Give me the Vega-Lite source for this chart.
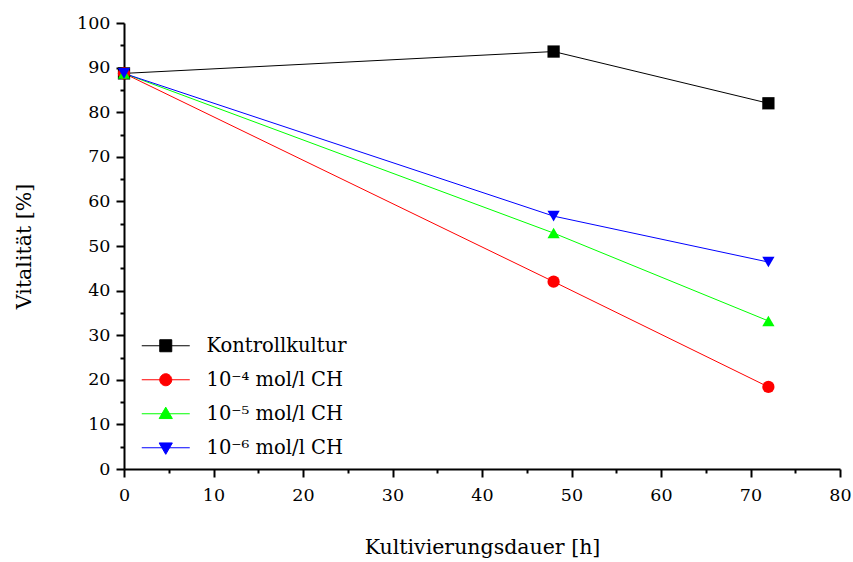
{
  "$schema": "https://vega.github.io/schema/vega-lite/v6.json",
  "width": 716,
  "height": 446,
  "autosize": {"type": "none"},
  "padding": {"left": 124, "top": 23, "right": 13, "bottom": 93},
  "background": "white",
  "config": {
    "view": {"stroke": null},
    "font": "DejaVu Serif",
    "axis": {"grid": false, "domainColor": "black", "domainWidth": 2, "tickColor": "black", "tickWidth": 2, "labelColor": "black", "titleColor": "black", "labelFont": "DejaVu Serif", "titleFont": "DejaVu Serif", "labelFontSize": 17.5, "titleFontSize": 20.5, "titleFontWeight": "normal"},
    "legend": {"labelFont": "DejaVu Serif"}
  },
  "data": {
    "values": [
      {"series": "Kontrollkultur", "t": 0, "v": 88.7},
      {"series": "Kontrollkultur", "t": 48, "v": 93.6},
      {"series": "Kontrollkultur", "t": 72, "v": 82.0},
      {"series": "10⁻⁴ mol/l CH", "t": 0, "v": 88.7},
      {"series": "10⁻⁴ mol/l CH", "t": 48, "v": 42.0},
      {"series": "10⁻⁴ mol/l CH", "t": 72, "v": 18.4},
      {"series": "10⁻⁵ mol/l CH", "t": 0, "v": 88.7},
      {"series": "10⁻⁵ mol/l CH", "t": 48, "v": 52.9},
      {"series": "10⁻⁵ mol/l CH", "t": 72, "v": 33.2},
      {"series": "10⁻⁶ mol/l CH", "t": 0, "v": 88.7},
      {"series": "10⁻⁶ mol/l CH", "t": 48, "v": 56.7},
      {"series": "10⁻⁶ mol/l CH", "t": 72, "v": 46.4}
    ]
  },
  "encoding": {
    "x": {"field": "t", "type": "quantitative", "scale": {"domain": [0, 80], "nice": false},
      "axis": {"title": "Kultivierungsdauer [h]", "values": [0,5,10,15,20,25,30,35,40,45,50,55,60,65,70,75,80],
        "labelExpr": "datum.value % 10 === 0 ? datum.label : ''",
        "tickSize": {"condition": {"test": "datum.value % 10 !== 0", "value": 4}, "value": 8},
        "labelPadding": 9, "titlePadding": 34, "labelFlush": false}},
    "y": {"field": "v", "type": "quantitative", "scale": {"domain": [0, 100], "nice": false},
      "axis": {"title": "Vitalität [%]", "values": [0,5,10,15,20,25,30,35,40,45,50,55,60,65,70,75,80,85,90,95,100],
        "labelExpr": "datum.value % 10 === 0 ? datum.label : ''",
        "tickSize": {"condition": {"test": "datum.value % 10 !== 0", "value": 4}, "value": 8},
        "labelPadding": 6, "titlePadding": 42, "labelFlush": false}}
  },
  "layer": [
    {
      "mark": {"type": "line", "strokeWidth": 1},
      "encoding": {
        "color": {"field": "series", "type": "nominal", "legend": null,
          "scale": {"domain": ["Kontrollkultur", "10⁻⁴ mol/l CH", "10⁻⁵ mol/l CH", "10⁻⁶ mol/l CH"], "range": ["#000000", "#ff0000", "#00ff00", "#0000ff"]}}
      }
    },
    {
      "mark": {"type": "point", "filled": true, "opacity": 1, "size": 150},
      "encoding": {
        "color": {"field": "series", "type": "nominal", "legend": null},
        "shape": {"field": "series", "type": "nominal", "legend": null,
          "scale": {"domain": ["Kontrollkultur", "10⁻⁴ mol/l CH", "10⁻⁵ mol/l CH", "10⁻⁶ mol/l CH"], "range": ["square", "circle", "triangle-up", "triangle-down"]}}
      }
    },
    {
      "mark": {"type": "point", "filled": true, "opacity": 0},
      "encoding": {
        "fill": {"field": "series", "type": "nominal", "legend": null,
          "scale": {"domain": ["Kontrollkultur", "10⁻⁴ mol/l CH", "10⁻⁵ mol/l CH", "10⁻⁶ mol/l CH"], "range": ["#000000", "#ff0000", "#00ff00", "#0000ff"]}},
        "stroke": {"field": "series", "type": "nominal", "legend": null,
          "scale": {"domain": ["Kontrollkultur", "10⁻⁴ mol/l CH", "10⁻⁵ mol/l CH", "10⁻⁶ mol/l CH"], "range": ["#000000", "#ff0000", "#00ff00", "#0000ff"]}},
        "shape": {"field": "series", "type": "nominal",
          "scale": {"domain": ["Kontrollkultur", "10⁻⁴ mol/l CH", "10⁻⁵ mol/l CH", "10⁻⁶ mol/l CH"],
            "range": ["M-4,0H4M-1,-1H1V1H-1Z", "M-4,0H4M1,0A1,1,0,1,1,-1,0A1,1,0,1,1,1,0Z", "M-4,0H4M0,-1.1L1.1,0.8H-1.1Z", "M-4,0H4M0,1.1L1.1,-0.8H-1.1Z"]},
          "legend": {"title": null, "orient": "none", "legendX": 32, "legendY": 313, "symbolSize": 144, "symbolOpacity": 1, "symbolStrokeWidth": 1,
            "symbolFillColor": {"expr": "datum.value === 'Kontrollkultur' ? '#000000' : datum.value === '10⁻⁴ mol/l CH' ? '#ff0000' : datum.value === '10⁻⁵ mol/l CH' ? '#00ff00' : '#0000ff'"},
            "symbolStrokeColor": {"expr": "datum.value === 'Kontrollkultur' ? '#000000' : datum.value === '10⁻⁴ mol/l CH' ? '#ff0000' : datum.value === '10⁻⁵ mol/l CH' ? '#00ff00' : '#0000ff'"},
            "labelFont": "DejaVu Serif", "labelFontSize": 19.5, "labelColor": "black", "labelOffset": 31, "rowPadding": 13, "padding": 0,
            "labelLimit": 400}}
      }
    }
  ],
  "resolve": {"scale": {"shape": "independent"}, "legend": {"shape": "independent"}}
}
